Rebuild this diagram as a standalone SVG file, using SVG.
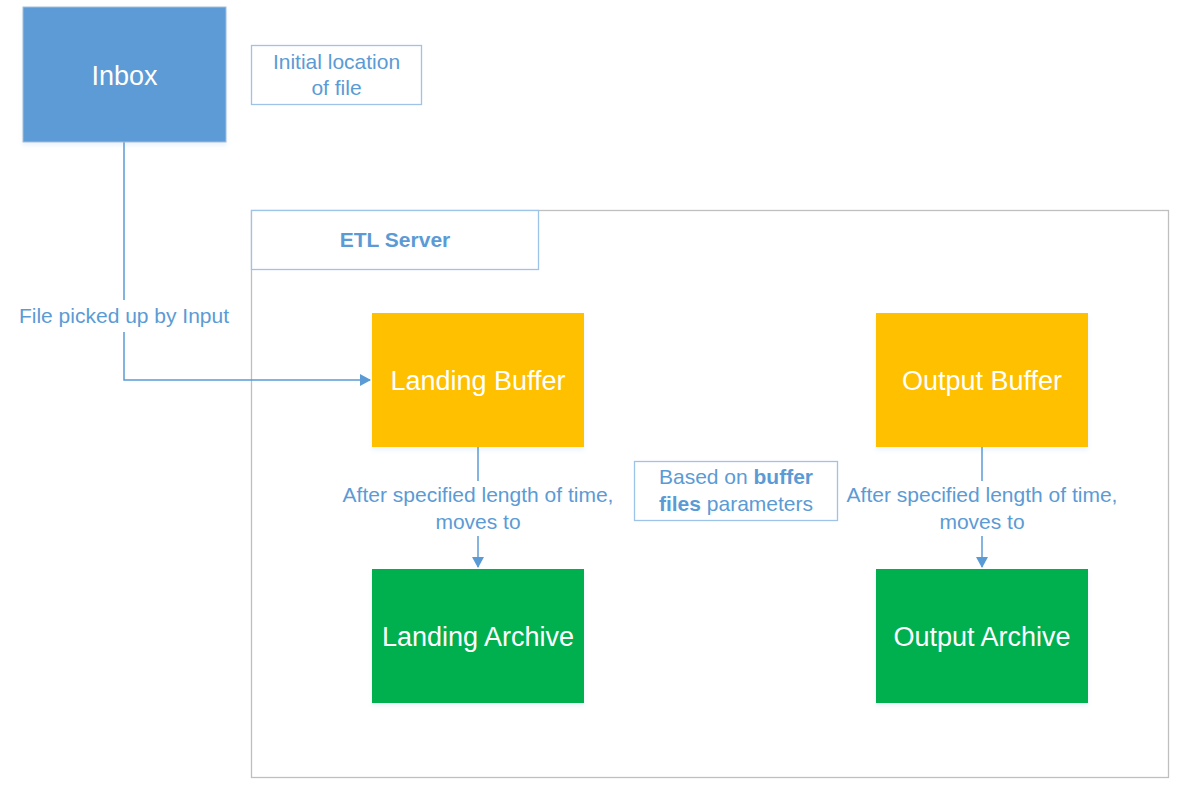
<svg xmlns="http://www.w3.org/2000/svg" width="1178" height="789" viewBox="0 0 1178 789">
<style>
.t{font-family:"Liberation Sans",Arial,sans-serif;text-anchor:middle}
.big{font-size:27px;fill:#ffffff}
.lab{font-size:21px;fill:#5B9BD5}
.note{fill:#ffffff;stroke:#9DC3E6;stroke-width:1.3}
.conn{fill:none;stroke:#5B9BD5;stroke-width:1.5}
</style>
<defs>
<marker id="arr" markerWidth="12" markerHeight="12" refX="10" refY="6" orient="auto" markerUnits="userSpaceOnUse">
<path d="M0,0 L11,6 L0,12 Z" fill="#5B9BD5"/>
</marker>
<filter id="sh" x="-5%" y="-5%" width="110%" height="115%">
<feDropShadow dx="0" dy="3" stdDeviation="2" flood-color="#5B9BD5" flood-opacity="0.12"/>
</filter>
</defs>
<g id="etl-server">
<rect x="251.5" y="210.5" width="917" height="567" fill="#ffffff" stroke="#BFBFBF" stroke-width="1.3"/>
<rect x="251.5" y="210.5" width="287" height="59" class="note" stroke="#5B9BD5"/>
<text x="395" y="246.5" class="t lab" font-weight="bold" font-size="17.5">ETL Server</text>
</g>
<g id="connectors">
<path d="M124,142 V300 M124,332 V380 H370" class="conn" marker-end="url(#arr)"/>
<text x="124" y="323" class="t lab">File picked up by Input</text>
<path d="M478,447 V481" class="conn"/>
<path d="M478,536 V567" class="conn" marker-end="url(#arr)"/>
<text x="478" y="501.5" class="t lab">After specified length of time,</text>
<text x="478" y="528.5" class="t lab">moves to</text>
<path d="M982,447 V481" class="conn"/>
<path d="M982,536 V567" class="conn" marker-end="url(#arr)"/>
<text x="982" y="501.5" class="t lab">After specified length of time,</text>
<text x="982" y="528.5" class="t lab">moves to</text>
</g>
<g id="inbox">
<rect x="23" y="7" width="203" height="135" fill="#5B9BD5" stroke="#A6BFD8" stroke-width="1" filter="url(#sh)"/>
<text x="124.5" y="85" class="t big" font-size="29">Inbox</text>
</g>
<g id="initial-location">
<rect x="251.5" y="45.5" width="170" height="59" class="note"/>
<text x="336.5" y="68.5" class="t lab">Initial location</text>
<text x="336.5" y="94.5" class="t lab">of file</text>
</g>
<g id="landing-buffer">
<rect x="372" y="313" width="212" height="134" fill="#FFC000" filter="url(#sh)"/>
<text x="478" y="389.5" class="t big">Landing Buffer</text>
</g>
<g id="output-buffer">
<rect x="876" y="313" width="212" height="134" fill="#FFC000" filter="url(#sh)"/>
<text x="982" y="389.5" class="t big">Output Buffer</text>
</g>
<g id="landing-archive">
<rect x="372" y="569" width="212" height="134" fill="#00B050" filter="url(#sh)"/>
<text x="478" y="646" class="t big">Landing Archive</text>
</g>
<g id="output-archive">
<rect x="876" y="569" width="212" height="134" fill="#00B050" filter="url(#sh)"/>
<text x="982" y="646" class="t big">Output Archive</text>
</g>
<g id="buffer-note">
<rect x="634.5" y="461.5" width="203" height="59" class="note"/>
<text x="736" y="484" class="t lab">Based on <tspan font-weight="bold">buffer</tspan></text>
<text x="736" y="511" class="t lab"><tspan font-weight="bold">files</tspan> parameters</text>
</g>
</svg>
